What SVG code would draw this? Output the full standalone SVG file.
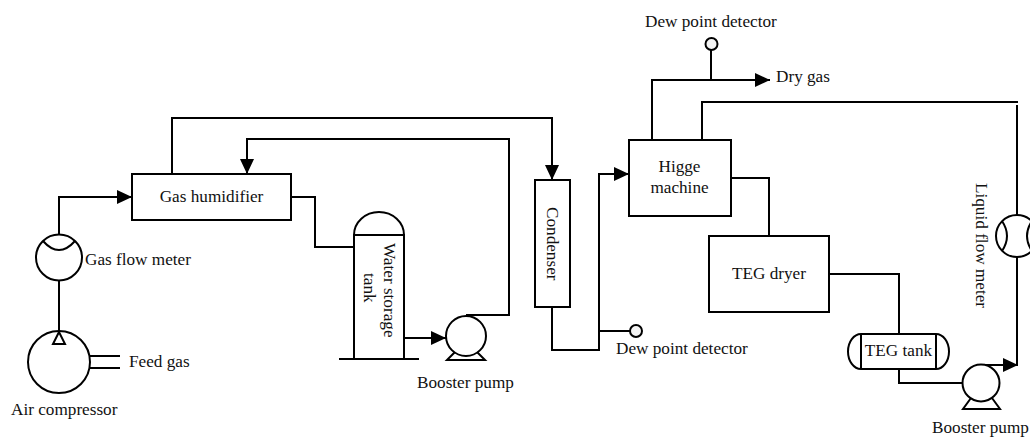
<svg xmlns="http://www.w3.org/2000/svg" width="1030" height="437" viewBox="0 0 1030 437">
<style>
.s{fill:none;stroke:#000;stroke-width:2}
.n{fill:#fff;stroke:#000;stroke-width:2}
.d{fill:#f4f4f4;stroke:#000;stroke-width:2}
text{font-family:"Liberation Serif","Times New Roman",serif;font-size:17.200px;fill:#111}
</style>
<defs>
<marker id="a" markerUnits="userSpaceOnUse" markerWidth="15" markerHeight="16" refX="15" refY="8" orient="auto"><path d="M0 1L15 8L0 15Z" fill="#000"/></marker>
</defs>
<rect width="1030" height="437" fill="#fff"/>
<g id="connectors" class="s">
<path class="s" d="M59 235V197H132" marker-end="url(#a)"/>
<path class="s" d="M59 280V333"/>
<path class="s" d="M90 356H120M90 368H120"/>
<path class="s" d="M172 174V118H552V180" marker-end="url(#a)"/>
<path class="s" d="M291 197H315V247H354"/>
<path class="s" d="M404 338H446" marker-end="url(#a)"/>
<path class="s" d="M466 315H509V139H247V174" marker-end="url(#a)"/>
<path class="s" d="M552 307V350H599V174H629" marker-end="url(#a)"/>
<path class="s" d="M599 331H630"/>
<path class="s" d="M652 140V80H770" marker-end="url(#a)"/>
<path class="s" d="M711 80V50"/>
<path class="s" d="M702 140V102H1018"/>
<path class="s" d="M1017 105V215"/>
<path class="s" d="M1017 257V365"/>
<path class="s" d="M985 365H1018" marker-end="url(#a)"/>
<path class="s" d="M731 178H769V236"/>
<path class="s" d="M829 274H899V334"/>
<path class="s" d="M899 369V383H963"/>
</g>
<g id="air-compressor">
<circle class="n" cx="59" cy="362" r="31"/>
<path class="n" d="M59 332L53 344H65Z"/>
<text x="11" y="415">Air compressor</text>
</g>
<text x="129" y="367">Feed gas</text>
<g id="gas-flow-meter">
<circle class="n" cx="59" cy="257.500" r="23"/>
<path class="s" d="M43 241Q59 259 75 241"/>
<text x="85" y="265">Gas flow meter</text>
</g>
<g id="gas-humidifier">
<rect class="n" x="132" y="174" width="159" height="46"/>
<text x="211.500" y="202" text-anchor="middle">Gas humidifier</text>
</g>
<g id="water-storage-tank">
<path class="n" d="M354 235A25 23 0 0 1 404 235Z"/>
<rect class="n" x="354" y="235" width="50" height="124"/>
<path class="s" d="M339 359H419"/>
<text transform="translate(384,243) rotate(90)">Water storage</text>
<text transform="translate(364,273) rotate(90)">tank</text>
</g>
<g id="booster-pump-1">
<path class="n" d="M455 352L447 360H485L477 352"/>
<circle class="n" cx="466" cy="336" r="20"/>
<text x="417" y="388">Booster pump</text>
</g>
<g id="condenser">
<rect class="n" x="535" y="180" width="35" height="127"/>
<text transform="translate(547,207) rotate(90)">Condenser</text>
</g>
<g id="dew-point-1">
<circle class="d" cx="636" cy="331" r="6"/>
<text x="616" y="354">Dew point detector</text>
</g>
<g id="higgie-machine">
<rect class="n" x="629" y="140" width="102" height="76"/>
<text x="679.500" y="172" text-anchor="middle">Higge</text>
<text x="679.500" y="193" text-anchor="middle">machine</text>
</g>
<g id="dew-point-2">
<circle class="d" cx="711.500" cy="44" r="6"/>
<text x="645" y="27">Dew point detector</text>
</g>
<text x="776" y="82">Dry gas</text>
<g id="teg-dryer">
<rect class="n" x="709" y="236" width="120" height="76"/>
<text x="769" y="279" text-anchor="middle">TEG dryer</text>
</g>
<g id="teg-tank">
<path class="n" d="M861 334H936A13 17.500 0 0 1 936 369H861A13 17.500 0 0 1 861 334Z"/>
<path class="s" d="M861 334V369M936 334V369"/>
<text x="898.500" y="356" text-anchor="middle">TEG tank</text>
</g>
<g id="booster-pump-2">
<path class="n" d="M971 398L963 409H1000L992 398"/>
<circle class="n" cx="981" cy="383" r="18.500"/>
<text x="932" y="433">Booster pump</text>
</g>
<g id="liquid-flow-meter">
<circle class="n" cx="1017" cy="236" r="21"/>
<path class="s" d="M1002 221Q1012 236 1002 251M1032 221Q1022 236 1032 251"/>
<text transform="translate(976,183) rotate(90)">Liquid flow meter</text>
</g>
</svg>
